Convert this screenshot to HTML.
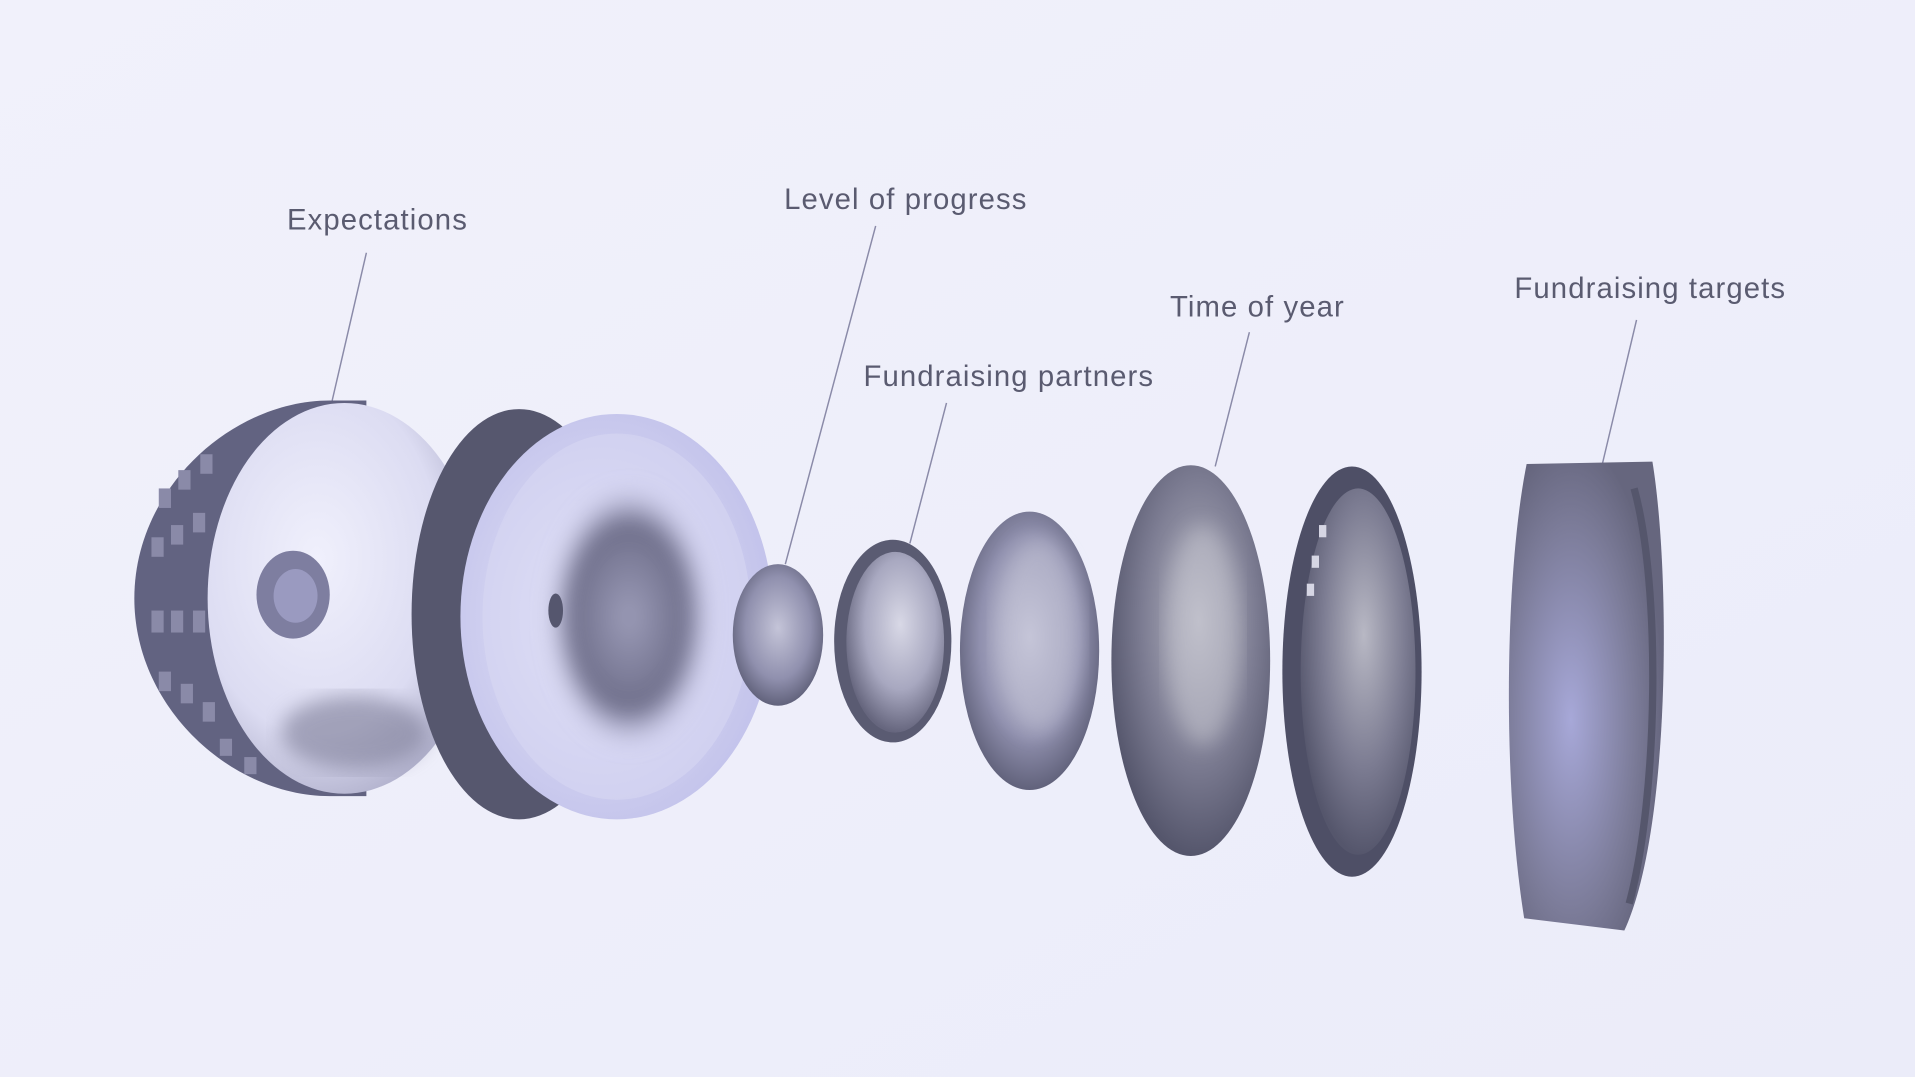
<!DOCTYPE html>
<html><head><meta charset="utf-8"><style>
html,body{margin:0;padding:0;background:#eeeffb;}
svg{display:block}
text{font-family:"Liberation Sans",sans-serif;font-size:24px;fill:#5a5b70;letter-spacing:0.9px}
</style></head><body>
<svg width="1915" height="1077" viewBox="0 0 1568 882" preserveAspectRatio="none" xmlns="http://www.w3.org/2000/svg">
<defs>
<linearGradient id="bg" x1="0" y1="0" x2="1" y2="1"><stop offset="0" stop-color="#f1f1fb"/><stop offset="1" stop-color="#ebecf9"/></linearGradient>
<radialGradient id="face1" cx="0.4" cy="0.4" r="0.75"><stop offset="0" stop-color="#f0f0fc"/><stop offset="0.6" stop-color="#dcdcf2"/><stop offset="1" stop-color="#9a9ab8"/></radialGradient>
<radialGradient id="face2" cx="0.45" cy="0.5" r="0.6"><stop offset="0" stop-color="#e6e6f8"/><stop offset="1" stop-color="#c0c0ea"/></radialGradient>
<radialGradient id="inner2" cx="0.5" cy="0.5" r="0.5"><stop offset="0" stop-color="#9c9cb8"/><stop offset="0.7" stop-color="#6e6e8a"/><stop offset="1" stop-color="#b8b8d8" stop-opacity="0"/></radialGradient>
<radialGradient id="lens" cx="0.5" cy="0.45" r="0.6"><stop offset="0" stop-color="#c4c4d8"/><stop offset="0.6" stop-color="#9090ae"/><stop offset="1" stop-color="#55566e"/></radialGradient>
<radialGradient id="lens2" cx="0.55" cy="0.4" r="0.6"><stop offset="0" stop-color="#d8d8e6"/><stop offset="0.6" stop-color="#a8a8c0"/><stop offset="1" stop-color="#66667e"/></radialGradient>
<radialGradient id="big" cx="0.55" cy="0.4" r="0.6"><stop offset="0" stop-color="#b8b8c4"/><stop offset="0.6" stop-color="#7c7c92"/><stop offset="1" stop-color="#55566c"/></radialGradient>
<radialGradient id="cyl" cx="0.4" cy="0.55" r="0.6"><stop offset="0" stop-color="#a7a8d8"/><stop offset="0.7" stop-color="#7b7b98"/><stop offset="1" stop-color="#66667e"/></radialGradient>
<filter id="blur"><feGaussianBlur stdDeviation="8"/></filter>
</defs>
<rect width="1568" height="882" fill="url(#bg)"/>

<g stroke="#8a8aa8" stroke-width="1.2" fill="none">
<line x1="300" y1="207" x2="272" y2="328"/>
<line x1="717" y1="185" x2="643" y2="462"/>
<line x1="775" y1="330" x2="745" y2="445"/>
<line x1="1023" y1="272" x2="995" y2="382"/>
<line x1="1340" y1="262" x2="1312" y2="380"/>
</g>

<path d="M270 328 C190 328 110 400 110 490 C110 580 190 652 270 652 L300 652 L300 328 Z" fill="#626381"/>
<g fill="#8a8aa8">
<rect x="130" y="400" width="10" height="16"/><rect x="146" y="385" width="10" height="16"/><rect x="164" y="372" width="10" height="16"/>
<rect x="124" y="440" width="10" height="16"/><rect x="140" y="430" width="10" height="16"/><rect x="158" y="420" width="10" height="16"/>
<rect x="124" y="500" width="10" height="18"/><rect x="140" y="500" width="10" height="18"/><rect x="158" y="500" width="10" height="18"/>
<rect x="130" y="550" width="10" height="16"/><rect x="148" y="560" width="10" height="16"/><rect x="166" y="575" width="10" height="16"/>
<rect x="180" y="605" width="10" height="14"/><rect x="200" y="620" width="10" height="14"/>
</g>
<ellipse cx="282" cy="490" rx="112" ry="160" fill="url(#face1)"/>
<ellipse cx="290" cy="600" rx="60" ry="30" fill="#7a7a94" opacity="0.6" filter="url(#blur)"/>
<ellipse cx="240" cy="487" rx="30" ry="36" fill="#7e7ea0"/>
<ellipse cx="242" cy="488" rx="18" ry="22" fill="#9a9ac0"/>

<ellipse cx="425" cy="503" rx="88" ry="168" fill="#56576e"/>
<ellipse cx="505" cy="505" rx="128" ry="166" fill="url(#face2)"/>
<ellipse cx="505" cy="505" rx="110" ry="150" fill="#dadaf4" opacity="0.5"/>
<ellipse cx="515" cy="505" rx="68" ry="108" fill="url(#inner2)" filter="url(#blur)"/>
<ellipse cx="455" cy="500" rx="6" ry="14" fill="#55566e"/>

<ellipse cx="637" cy="520" rx="37" ry="58" fill="url(#lens)"/>
<ellipse cx="731" cy="525" rx="48" ry="83" fill="#5a5b72"/>
<ellipse cx="733" cy="526" rx="40" ry="74" fill="url(#lens2)"/>
<ellipse cx="843" cy="533" rx="57" ry="114" fill="url(#lens)"/>
<ellipse cx="850" cy="520" rx="35" ry="80" fill="#c6c6d8" opacity="0.5" filter="url(#blur)"/>
<ellipse cx="975" cy="541" rx="65" ry="160" fill="url(#big)"/>
<ellipse cx="985" cy="520" rx="30" ry="90" fill="#c8c8d2" opacity="0.5" filter="url(#blur)"/>
<ellipse cx="1107" cy="550" rx="57" ry="168" fill="#4e4f66"/>
<ellipse cx="1112" cy="550" rx="47" ry="150" fill="url(#big)"/>
<g fill="#d6d6e4"><rect x="1080" y="430" width="6" height="10"/><rect x="1074" y="455" width="6" height="10"/><rect x="1070" y="478" width="6" height="10"/></g>

<path d="M1250 380 L1353 378 C1368 470 1368 680 1330 762 L1248 752 C1230 640 1232 470 1250 380 Z" fill="url(#cyl)"/>
<path d="M1338 400 C1360 480 1358 650 1334 740" stroke="#55566c" stroke-width="6" fill="none"/>

<text x="235" y="188">Expectations</text>
<text x="642" y="171">Level of progress</text>
<text x="707" y="316">Fundraising partners</text>
<text x="958" y="259">Time of year</text>
<text x="1240" y="244">Fundraising targets</text>
</svg>
</body></html>
